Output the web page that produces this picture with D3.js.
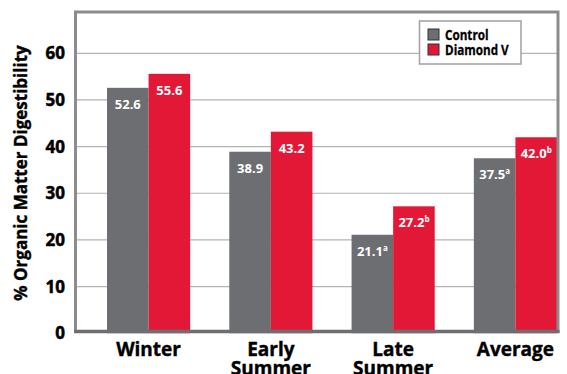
<!DOCTYPE html>
<html>
<head>
<meta charset="utf-8">
<script src="https://cdn.jsdelivr.net/npm/d3@7"></script>
<style>
  body { margin: 0; background: #fff; }
  svg { display: block; font-family: "Open Sans", sans-serif; }
</style>
</head>
<body>
<svg id="chart" width="567" height="374"></svg>
<script>
// data
var seasons = ["Winter", "Early Summer", "Late Summer", "Average"];
var seasonLines = [["Winter"], ["Early", "Summer"], ["Late", "Summer"], ["Average"]];
var series = ["Control", "Diamond V"];
var control = [52.6, 38.9, 21.1, 37.5];
var diamondV = [55.6, 43.2, 27.2, 42.0];
var controlSup = ["", "", "a", "a"];
var diamondSup = ["", "", "b", "b"];
var yTicks = [0, 10, 20, 30, 40, 50, 60];

var colors = { "Control": "#6d6e71", "Diamond V": "#e31837" };

var svg = d3.select("#chart");

var frame = { left: 75.5, top: 12, right: 558, bottom: 331.5 };

var x = d3.scaleBand().domain(seasons).range([107, 557]).paddingInner(0.32).paddingOuter(0);
var xs = d3.scaleBand().domain(series).range([0, x.bandwidth()]);
var y = d3.scaleLinear().domain([0, 60]).range([333.2, 53.3]);

// gridlines
svg.append("g").selectAll("line")
    .data(yTicks.filter(function(d) { return d > 0; }))
    .enter().append("line")
    .attr("x1", frame.left).attr("x2", frame.right)
    .attr("y1", function(d) { return y(d); })
    .attr("y2", function(d) { return y(d); })
    .attr("stroke", "#b3b3b3")
    .attr("stroke-width", 1.2);

// rows for the bars
var rows = [];
seasons.forEach(function(s, i) {
    rows.push({ season: s, key: "Control", value: control[i], sup: controlSup[i] });
    rows.push({ season: s, key: "Diamond V", value: diamondV[i], sup: diamondSup[i] });
});

svg.append("g").selectAll("rect")
    .data(rows)
    .enter().append("rect")
    .attr("x", function(d) { return x(d.season) + xs(d.key); })
    .attr("width", xs.bandwidth())
    .attr("y", function(d) { return y(d.value); })
    .attr("height", function(d) { return y(0) - y(d.value); })
    .attr("fill", function(d) { return colors[d.key]; });

// value labels
var labels = svg.append("g").selectAll("text")
    .data(rows)
    .enter().append("text")
    .attr("x", function(d) { return x(d.season) + xs(d.key) + xs.bandwidth() / 2; })
    .attr("y", function(d) { return y(d.value) + 21; })
    .attr("text-anchor", "middle")
    .attr("fill", "#fff")
    .style("font-weight", "bold")
    .style("font-size", "13px");
labels.append("tspan").text(function(d) { return d.value.toFixed(1); });
labels.append("tspan")
    .attr("dy", -5)
    .style("font-size", "8px")
    .text(function(d) { return d.sup; });

// frame
svg.append("rect")
    .attr("x", frame.left).attr("y", frame.top)
    .attr("width", frame.right - frame.left)
    .attr("height", frame.bottom - frame.top)
    .attr("fill", "none")
    .attr("stroke", "#8c8c8c")
    .attr("stroke-width", 3);
svg.append("line")
    .attr("x1", frame.left - 1.5).attr("x2", frame.right + 1.5)
    .attr("y1", frame.bottom).attr("y2", frame.bottom)
    .attr("stroke", "#6d6e71").attr("stroke-width", 3.5);

// y axis labels
svg.append("g").selectAll("text")
    .data(yTicks)
    .enter().append("text")
    .attr("x", 65)
    .attr("y", function(d) { return y(d) + 6; })
    .attr("text-anchor", "end")
    .attr("stroke", "#000").attr("stroke-width", 0.5)
    .style("font-weight", "bold")
    .style("font-size", "17px")
    .text(function(d) { return d; });

svg.append("text")
    .attr("transform", "translate(27,173) rotate(-90)")
    .attr("text-anchor", "middle")
    .attr("stroke", "#000").attr("stroke-width", 0.4)
    .style("font-weight", "bold")
    .style("font-size", "17px")
    .text("% Organic Matter Digestibility");

// x axis labels
var xl = svg.append("g").selectAll("text")
    .data(seasons)
    .enter().append("text")
    .attr("x", function(d) { return x(d) + x.bandwidth() / 2; })
    .attr("y", 356)
    .attr("text-anchor", "middle")
    .attr("stroke", "#000").attr("stroke-width", 0.4)
    .style("font-weight", "bold")
    .style("font-size", "19px");
xl.selectAll("tspan")
    .data(function(d, i) { return seasonLines[i]; })
    .enter().append("tspan")
    .attr("x", function() { return d3.select(this.parentNode).attr("x"); })
    .attr("dy", function(d, i) { return i === 0 ? 0 : 19; })
    .text(function(d) { return d; });

// legend
var legend = svg.append("g");
legend.append("rect")
    .attr("x", 419.5).attr("y", 21)
    .attr("width", 101.5).attr("height", 43)
    .attr("fill", "#fff")
    .attr("stroke", "#a0a0a0")
    .attr("stroke-width", 1.5);
var items = legend.selectAll("g.item")
    .data(series)
    .enter().append("g")
    .attr("transform", function(d, i) { return "translate(428," + (29 + i * 15) + ")"; });
items.append("rect")
    .attr("width", 11).attr("height", 11)
    .attr("fill", function(d) { return colors[d]; })
    .attr("stroke", "#333").attr("stroke-width", 1);
items.append("text")
    .attr("transform", "translate(17,11) scale(0.78,1)")
    .attr("stroke", "#000").attr("stroke-width", 0.3)
    .style("font-weight", "bold")
    .style("font-size", "15px")
    .text(function(d) { return d; });
</script>
</body>
</html>
